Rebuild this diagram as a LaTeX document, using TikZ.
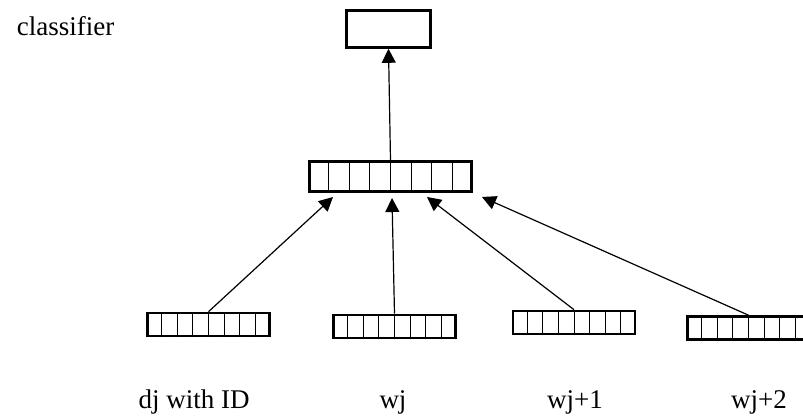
\documentclass[tikz,border=0pt]{standalone}
\usepackage{fontspec}
\setmainfont{Liberation Serif}
\usetikzlibrary{arrows.meta,calc}

\tikzset{
  >={Triangle[length=7pt,width=7pt]},
  box/.style={rectangle,draw,line width=1.3pt,inner sep=0pt,minimum width=42pt,minimum height=18.5pt},
  bigvec/.style={rectangle,draw,line width=1.3pt,inner sep=0pt,minimum width=81pt,minimum height=15pt},
  vec/.style={rectangle,draw,line width=1.3pt,inner sep=0pt,minimum width=61pt,minimum height=11.5pt},
  lbl/.style={inner sep=0pt,anchor=base,font=\fontsize{13.5pt}{16pt}\selectfont}
}
\newcommand{\cells}[1]{%
  \foreach \k in {1,...,7}
    \draw[line width=0.5pt] ($(#1.south west)!\k/8!(#1.south east)$) -- ($(#1.north west)!\k/8!(#1.north east)$);}

\begin{document}
\begin{tikzpicture}[x=0.5pt,y=-0.5pt]
\useasboundingbox (0,0) rectangle (803,417);

\path (65.5,36) node[lbl] (title) {classifier};
\path (388.5,29) node[box] (cls) {};

\path (390.5,176.5) node[bigvec] (mid) {};
\cells{mid}
\draw[->,line width=0.6pt] (mid.north) -- (cls.south);

\path (208.5,324.5) node[vec] (dj) {};
\cells{dj}
\path (394.5,326.5) node[vec] (wj) {};
\cells{wj}
\path (574,322.5) node[vec] (wja) {};
\cells{wja}
\path (748.5,328) node[vec] (wjb) {};
\cells{wjb}

\coordinate (in1) at (333,197);
\coordinate (in2) at (392,198);
\coordinate (in3) at (427,197);
\coordinate (in4) at (482,197);
\draw[->,line width=0.6pt] (dj.north) -- (in1);
\draw[->,line width=0.6pt] (wj.north) -- (in2);
\draw[->,line width=0.6pt] (wja.north) -- (in3);
\draw[->,line width=0.6pt] (wjb.north) -- (in4);

\path (194,408) node[lbl] (ldj) {dj with ID};
\path (393,408) node[lbl] (lwj) {wj};
\path (575,408) node[lbl] (lwja) {wj+1};
\path (759,408) node[lbl] (lwjb) {wj+2};
\end{tikzpicture}
\end{document}
